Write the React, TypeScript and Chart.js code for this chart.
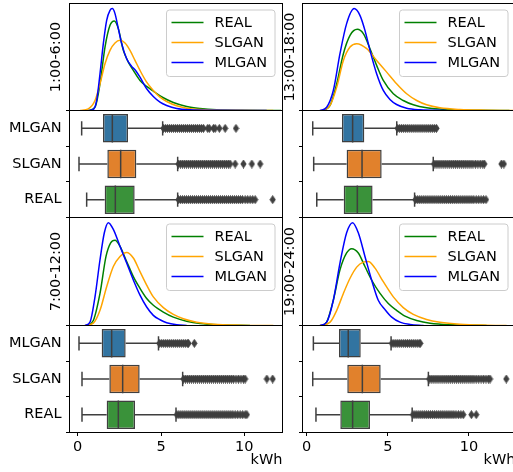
import React, { useEffect, useRef } from "react";
import { Chart, registerables } from "chart.js";
Chart.register(...registerables);

const CW = 530;
const CH = 472;
const FONT_FAMILY = "'DejaVu Sans', 'Liberation Sans', sans-serif";
const FONT_SIZE = 14.5;
const EDGE = "#3f3f3f";

// ---------- categories / labels ----------
const SERIES = ["REAL", "SLGAN", "MLGAN"];
const SERIES_COLORS = ["green", "orange", "blue"];
const BOX_CATEGORIES = ["MLGAN", "SLGAN", "REAL"]; // top to bottom
const BOX_FILLS = ["#3274a1", "#e1812c", "#3a923a"];
const PERIODS = ["1:00-6:00", "13:00-18:00", "7:00-12:00", "19:00-24:00"];
const X_TICKS = [0, 5, 10];
const X_LABEL = "kWh";

// ---------- KDE curves [kWh, density (relative)] ----------
const KDE_1_6_REAL = [[0.64,0],[1.04,3.3],[1.34,26.7],[1.64,63.3],[1.94,85],[2.2,89.3],[2.44,81.7],[2.74,60],[3.04,48.3],[3.34,40],[3.74,30],[4.14,24],[4.54,19.3],[5.14,12.7],[5.74,8],[6.54,4],[7.34,2],[8.34,0.7],[9.74,0.2],[12.2,0]];
const KDE_1_6_SLGAN = [[0.14,0],[0.64,1.7],[1.04,10],[1.34,26.7],[1.64,46.7],[1.94,60],[2.24,67.3],[2.54,70],[2.84,67.3],[3.14,60],[3.44,50],[3.74,40],[4.14,28.3],[4.54,20],[4.94,13.3],[5.34,9],[5.94,4.7],[6.54,2.3],[7.34,1],[9.34,0.2],[11.74,0]];
const KDE_1_6_MLGAN = [[0.64,0],[0.94,1],[1.14,10],[1.34,36.7],[1.54,66.7],[1.74,90],[1.94,100],[2.08,101.7],[2.24,96.7],[2.44,81.7],[2.64,66.7],[2.94,51.7],[3.24,44],[3.44,40.7],[3.74,33.3],[4.14,21.7],[4.54,14],[4.94,8.3],[5.34,5],[5.94,2],[6.74,0.7],[8.34,0.2],[11.34,0]];

const KDE_13_18_REAL = [[1.03,0],[1.44,5],[1.85,26.7],[2.26,56.7],[2.67,75],[3.12,81],[3.49,76.7],[3.9,61.7],[4.31,45],[4.72,30],[5.34,16.7],[5.95,10],[6.57,5.7],[7.39,2.7],[8.62,1],[10.68,0.2],[12.5,0]];
const KDE_13_18_SLGAN = [[0.92,0],[1.44,5],[1.85,23.3],[2.26,50],[2.67,63.3],[3.08,66.7],[3.7,61.7],[4.31,50],[4.93,38.3],[5.54,26.7],[6.16,16.7],[6.78,10],[7.39,5.7],[8.21,2.7],[9.44,1],[11.09,0.3],[12.73,0]];
const KDE_13_18_MLGAN = [[0.82,0],[1.23,3.3],[1.64,20],[2.05,56.7],[2.46,86.7],[2.92,101.7],[3.28,95],[3.59,80],[3.9,60],[4.31,36.7],[4.72,20],[5.13,11],[5.54,6],[6.16,2.3],[6.98,0.7],[8.62,0]];

const KDE_7_12_REAL = [[0.54,0],[0.94,5],[1.34,31.7],[1.7,68.3],[1.98,81.7],[2.24,84.3],[2.54,78.3],[2.94,63.3],[3.34,48.3],[3.74,36.7],[4.14,26.7],[4.54,20],[5.14,13.3],[5.74,8.3],[6.54,4.3],[7.34,2],[8.54,0.7],[10.34,0]];
const KDE_7_12_SLGAN = [[0.44,0],[0.94,2.3],[1.34,15],[1.74,38.3],[2.14,58.3],[2.54,68.3],[2.94,72.3],[3.34,66.7],[3.74,53.3],[4.14,40],[4.54,28.3],[5.14,17.7],[5.74,11],[6.34,6.7],[7.14,3.3],[8.14,1.3],[9.74,0.3],[11.74,0]];
const KDE_7_12_MLGAN = [[0.44,0],[0.74,3.3],[1.04,28.3],[1.34,65],[1.6,91.7],[1.84,101.7],[2.14,95],[2.54,78.3],[2.94,61.7],[3.34,45],[3.74,30],[4.14,18.3],[4.54,10],[4.94,5.7],[5.34,2.7],[5.94,0.7],[6.54,0]];

const KDE_19_24_REAL = [[0.92,0],[1.23,3.3],[1.64,25],[2.05,55],[2.46,71.7],[2.77,76],[3.18,71.7],[3.59,58.3],[4.0,45],[4.52,31.7],[5.03,21.7],[5.54,15],[6.06,9.3],[6.78,5],[7.6,2.3],[9.03,0.7],[11.09,0]];
const KDE_19_24_SLGAN = [[0.82,0],[1.44,3.3],[1.85,15],[2.26,31.7],[2.67,46.7],[3.08,57.7],[3.49,62.7],[3.8,63.3],[4.21,56.7],[4.72,43.3],[5.34,28.3],[5.95,17.7],[6.57,11],[7.39,6],[8.21,3.3],[9.44,1.3],[11.09,0.3],[12.32,0]];
const KDE_19_24_MLGAN = [[0.82,0],[1.23,3.3],[1.64,25],[2.05,61.7],[2.46,91.7],[2.83,101.7],[3.18,91.7],[3.59,68.3],[4.0,45],[4.41,25],[4.83,15.7],[5.24,8.3],[5.75,3.3],[6.37,1],[7.2,0]];

// ---------- box statistics (order: MLGAN, SLGAN, REAL) ----------
const BOX_1_6_LO = [0.24, 0.08, 0.54];
const BOX_1_6_Q1 = [1.52, 1.78, 1.62];
const BOX_1_6_MED = [2.08, 2.58, 2.26];
const BOX_1_6_Q3 = [3.02, 3.52, 3.42];
const BOX_1_6_HI = [5.1, 6.0, 6.0];

const BOX_13_18_LO = [0.37, 0.43, 0.62];
const BOX_13_18_Q1 = [2.17, 2.46, 2.28];
const BOX_13_18_MED = [2.83, 3.41, 3.12];
const BOX_13_18_Q3 = [3.55, 4.62, 4.06];
const BOX_13_18_HI = [5.55, 7.8, 6.65];

const BOX_7_12_LO = [0.08, 0.26, 0.26];
const BOX_7_12_Q1 = [1.44, 1.9, 1.74];
const BOX_7_12_MED = [2.04, 2.7, 2.44];
const BOX_7_12_Q3 = [2.88, 3.72, 3.44];
const BOX_7_12_HI = [4.85, 6.3, 5.9];

const BOX_19_24_LO = [0.41, 0.37, 0.57];
const BOX_19_24_Q1 = [1.99, 2.5, 2.07];
const BOX_19_24_MED = [2.56, 3.43, 2.83];
const BOX_19_24_Q3 = [3.33, 4.56, 3.9];
const BOX_19_24_HI = [5.2, 7.5, 6.5];

// ---------- outliers (kWh) ----------
const OUT_1_6_MLGAN = [5.15,5.27,5.39,5.51,5.63,5.75,5.87,5.99,6.11,6.23,6.35,6.47,6.59,6.71,6.83,6.95,7.07,7.19,7.31,7.43,7.55,7.8,7.9,8.15,8.25,8.5,8.85,9.5];
const OUT_1_6_SLGAN = [6.05,6.17,6.29,6.41,6.53,6.65,6.77,6.89,7.01,7.13,7.25,7.37,7.49,7.61,7.73,7.85,7.97,8.09,8.21,8.33,8.45,8.57,8.69,8.81,8.93,9.05,9.15,9.45,9.95,10.45,10.95];
const OUT_1_6_REAL = [6.05,6.17,6.29,6.41,6.53,6.65,6.77,6.89,7.01,7.13,7.25,7.37,7.49,7.61,7.73,7.85,7.97,8.09,8.21,8.33,8.45,8.57,8.69,8.81,8.93,9.05,9.17,9.29,9.41,9.53,9.65,9.77,9.89,10.05,10.2,10.35,10.5,10.65,11.7];

const OUT_13_18_MLGAN = [5.6,5.72,5.84,5.96,6.08,6.2,6.32,6.44,6.56,6.68,6.8,6.92,7.04,7.16,7.28,7.4,7.52,7.64,7.76,7.88,8.0];
const OUT_13_18_SLGAN = [7.85,7.97,8.09,8.21,8.33,8.45,8.57,8.69,8.81,8.93,9.05,9.17,9.29,9.41,9.53,9.65,9.77,9.89,10.01,10.13,10.25,10.4,10.55,10.7,10.85,10.95,12.0,12.15];
const OUT_13_18_REAL = [6.7,6.82,6.94,7.06,7.18,7.3,7.42,7.54,7.66,7.78,7.9,8.02,8.14,8.26,8.38,8.5,8.62,8.74,8.86,8.98,9.1,9.22,9.34,9.46,9.58,9.7,9.82,9.94,10.06,10.18,10.3,10.45,10.6,10.75,10.9,11.05];

const OUT_7_12_MLGAN = [4.9,5.02,5.14,5.26,5.38,5.5,5.62,5.74,5.86,5.98,6.1,6.22,6.34,6.46,6.58,6.65,7.0];
const OUT_7_12_SLGAN = [6.35,6.47,6.59,6.71,6.83,6.95,7.07,7.19,7.31,7.43,7.55,7.67,7.79,7.91,8.03,8.15,8.27,8.39,8.51,8.63,8.75,8.87,8.99,9.11,9.23,9.35,9.5,9.65,9.8,9.95,10.05,11.35,11.7];
const OUT_7_12_REAL = [5.95,6.07,6.19,6.31,6.43,6.55,6.67,6.79,6.91,7.03,7.15,7.27,7.39,7.51,7.63,7.75,7.87,7.99,8.11,8.23,8.35,8.47,8.59,8.71,8.83,8.95,9.07,9.19,9.31,9.45,9.6,9.75,9.9,10.05,10.15];

const OUT_19_24_MLGAN = [5.25,5.37,5.49,5.61,5.73,5.85,5.97,6.09,6.21,6.33,6.45,6.57,6.69,6.81,6.93,7.0];
const OUT_19_24_SLGAN = [7.55,7.67,7.79,7.91,8.03,8.15,8.27,8.39,8.51,8.63,8.75,8.87,8.99,9.11,9.23,9.35,9.47,9.59,9.71,9.83,9.95,10.07,10.19,10.31,10.45,10.6,10.75,10.9,11.05,11.2,11.3,12.3];
const OUT_19_24_REAL = [6.55,6.67,6.79,6.91,7.03,7.15,7.27,7.39,7.51,7.63,7.75,7.87,7.99,8.11,8.23,8.35,8.47,8.59,8.71,8.83,8.95,9.07,9.2,9.35,9.5,9.65,10.15,10.45];

// ---------- layout ----------
const COLS = [
  { L: 69.5, R: 282.5, xmin: -0.49, xmax: 12.29, titleX: 56, labels: true },
  { L: 302.5, R: 515.5, xmin: -0.26, xmax: 12.87, titleX: 290.5, labels: false },
];
const ROWS = [
  { kT: 3.5, kB: 110.5, bT: 110.5, bB: 217.5, bottom: false },
  { kT: 217.5, kB: 325.5, bT: 325.5, bB: 432.5, bottom: true },
];

const PANELS = [
  { period: PERIODS[0], col: 0, row: 0, kde: [KDE_1_6_REAL, KDE_1_6_SLGAN, KDE_1_6_MLGAN],
    box: [BOX_1_6_LO, BOX_1_6_Q1, BOX_1_6_MED, BOX_1_6_Q3, BOX_1_6_HI], out: [OUT_1_6_MLGAN, OUT_1_6_SLGAN, OUT_1_6_REAL] },
  { period: PERIODS[1], col: 1, row: 0, kde: [KDE_13_18_REAL, KDE_13_18_SLGAN, KDE_13_18_MLGAN],
    box: [BOX_13_18_LO, BOX_13_18_Q1, BOX_13_18_MED, BOX_13_18_Q3, BOX_13_18_HI], out: [OUT_13_18_MLGAN, OUT_13_18_SLGAN, OUT_13_18_REAL] },
  { period: PERIODS[2], col: 0, row: 1, kde: [KDE_7_12_REAL, KDE_7_12_SLGAN, KDE_7_12_MLGAN],
    box: [BOX_7_12_LO, BOX_7_12_Q1, BOX_7_12_MED, BOX_7_12_Q3, BOX_7_12_HI], out: [OUT_7_12_MLGAN, OUT_7_12_SLGAN, OUT_7_12_REAL] },
  { period: PERIODS[3], col: 1, row: 1, kde: [KDE_19_24_REAL, KDE_19_24_SLGAN, KDE_19_24_MLGAN],
    box: [BOX_19_24_LO, BOX_19_24_Q1, BOX_19_24_MED, BOX_19_24_Q3, BOX_19_24_HI], out: [OUT_19_24_MLGAN, OUT_19_24_SLGAN, OUT_19_24_REAL] },
];

const FONT = { family: FONT_FAMILY, size: FONT_SIZE };
const HALF_LH = (FONT_SIZE * 1.2) / 2;

const framePlugin = {
  id: "frame",
  afterDraw(chart: any) {
    const { ctx, chartArea: a } = chart;
    ctx.save();
    ctx.strokeStyle = "#000";
    ctx.lineWidth = 1;
    ctx.strokeRect(a.left, a.top, a.right - a.left, a.bottom - a.top);
    ctx.restore();
  },
};

function makeLegendPlugin() {
  return {
    id: "innerLegend",
    afterDraw(chart: any) {
      const { ctx, chartArea: a } = chart;
      const w = 108.5, h = 66.5;
      const bx = a.right - 7.5 - w;
      const by = a.top + 6.5;
      ctx.save();
      ctx.beginPath();
      (ctx as any).roundRect(bx, by, w, h, 3);
      ctx.fillStyle = "rgba(255,255,255,0.8)";
      ctx.fill();
      ctx.strokeStyle = "#cccccc";
      ctx.lineWidth = 1;
      ctx.stroke();
      ctx.font = `${FONT_SIZE}px ${FONT_FAMILY}`;
      ctx.textBaseline = "middle";
      ctx.textAlign = "left";
      SERIES.forEach((s, i) => {
        const y = by + 12.5 + 20 * i;
        ctx.beginPath();
        ctx.moveTo(bx + 5, y);
        ctx.lineTo(bx + 37, y);
        ctx.strokeStyle = SERIES_COLORS[i];
        ctx.lineWidth = 1.5;
        ctx.stroke();
        ctx.fillStyle = "#000";
        ctx.fillText(s, bx + 48, y + 0.5);
      });
      ctx.restore();
    },
  };
}

function makeDiamond() {
  const c = document.createElement("canvas");
  c.width = 7;
  c.height = 9;
  const g = c.getContext("2d")!;
  g.fillStyle = EDGE;
  g.strokeStyle = EDGE;
  g.lineWidth = 0.8;
  g.beginPath();
  g.moveTo(3.5, 0.5);
  g.lineTo(6.2, 4.5);
  g.lineTo(3.5, 8.5);
  g.lineTo(0.8, 4.5);
  g.closePath();
  g.fill();
  g.stroke();
  return c;
}

function kdeConfig(p: any): any {
  const col = COLS[p.col];
  const row = ROWS[p.row];
  const padLeft = col.titleX - HALF_LH;
  const yW = col.L - padLeft;
  const peak = Math.max(...p.kde.flatMap((c: number[][]) => c.map((d) => d[1])));
  return {
    type: "scatter",
    data: {
      datasets: SERIES.map((s, i) => ({
        type: "line",
        label: s,
        data: p.kde[i].map((d: number[]) => ({ x: d[0], y: d[1] })),
        borderColor: SERIES_COLORS[i],
        backgroundColor: SERIES_COLORS[i],
        borderWidth: 1.5,
        pointRadius: 0,
        fill: false,
        showLine: true,
        cubicInterpolationMode: "monotone",
        order: 2 - i,
      })),
    },
    options: {
      responsive: false,
      animation: false,
      devicePixelRatio: 1,
      events: [],
      layout: { padding: { left: padLeft, right: CW - col.R, top: row.kT, bottom: CH - row.kB } },
      plugins: { legend: { display: false }, tooltip: { enabled: false } },
      scales: {
        x: { type: "linear", display: false, min: col.xmin, max: col.xmax },
        y: {
          type: "linear",
          min: 0,
          max: peak * 1.05,
          ticks: { display: false },
          grid: { display: false, drawTicks: false },
          border: { display: false },
          title: { display: true, text: p.period, font: FONT, color: "#000", padding: 0 },
          afterFit: (s: any) => { s.width = yW; },
        },
      },
    },
    plugins: [framePlugin, makeLegendPlugin()],
  };
}

function boxConfig(p: any, diamond: HTMLCanvasElement): any {
  const col = COLS[p.col];
  const row = ROWS[p.row];
  const [lo, q1, med, q3, hi] = p.box;
  const yW = 60;
  const xH = row.bottom ? CH - row.bB : 0;
  const SEP = { x: null, y: null };
  const CAP = 0.2;
  const HALF = 0.4;
  const whiskers: any[] = [];
  const medians: any[] = [];
  BOX_CATEGORIES.forEach((_, i) => {
    whiskers.push(
      { x: lo[i], y: i }, { x: q1[i], y: i }, SEP,
      { x: q3[i], y: i }, { x: hi[i], y: i }, SEP,
      { x: lo[i], y: i - CAP }, { x: lo[i], y: i + CAP }, SEP,
      { x: hi[i], y: i - CAP }, { x: hi[i], y: i + CAP }, SEP
    );
    medians.push({ x: med[i], y: i - HALF }, { x: med[i], y: i + HALF }, SEP);
  });
  const outliers = p.out.flatMap((arr: number[], i: number) => arr.map((v) => ({ x: v, y: i })));
  return {
    type: "scatter",
    data: {
      datasets: [
        {
          type: "line",
          data: medians,
          borderColor: EDGE,
          borderWidth: 1.5,
          pointRadius: 0,
          showLine: true,
          spanGaps: false,
          order: 0,
        },
        {
          type: "bar",
          indexAxis: "y",
          data: BOX_CATEGORIES.map((_, i) => ({ y: i, x: [q1[i], q3[i]] })),
          backgroundColor: BOX_FILLS,
          borderColor: EDGE,
          borderWidth: 1.5,
          borderSkipped: false,
          barPercentage: 0.8,
          categoryPercentage: 1,
          order: 1,
        },
        {
          type: "line",
          data: whiskers,
          borderColor: EDGE,
          borderWidth: 1.5,
          pointRadius: 0,
          showLine: true,
          spanGaps: false,
          order: 2,
        },
        {
          type: "scatter",
          data: outliers,
          pointStyle: diamond,
          pointRadius: 3,
          pointHoverRadius: 3,
          showLine: false,
          order: 3,
        },
      ],
    },
    options: {
      responsive: false,
      animation: false,
      devicePixelRatio: 1,
      events: [],
      layout: { padding: { left: col.L - yW, right: CW - col.R, top: row.bT, bottom: CH - row.bB - xH } },
      plugins: { legend: { display: false }, tooltip: { enabled: false } },
      scales: {
        x: {
          type: "linear",
          display: row.bottom,
          min: col.xmin,
          max: col.xmax,
          offset: false,
          afterBuildTicks: (s: any) => { s.ticks = X_TICKS.map((v) => ({ value: v })); },
          ticks: { display: true, font: FONT, color: "#000", padding: 3, maxRotation: 0, autoSkip: false },
          grid: { display: true, drawOnChartArea: false, drawTicks: true, tickLength: 3.5, color: "#000", lineWidth: 1 },
          border: { display: false },
          title: { display: true, text: X_LABEL, align: "end", font: FONT, color: "#000", padding: { top: 0, bottom: 3.5 } },
          afterFit: (s: any) => { s.height = xH; },
        },
        y: {
          type: "linear",
          min: -0.5,
          max: 2.5,
          reverse: true,
          offset: false,
          afterBuildTicks: (s: any) => { s.ticks = BOX_CATEGORIES.map((_, i) => ({ value: i })); },
          ticks: {
            display: col.labels,
            font: FONT,
            color: "#000",
            padding: 4.5,
            autoSkip: false,
            callback: (v: any) => BOX_CATEGORIES[Math.round(Number(v))],
          },
          grid: { display: true, drawOnChartArea: false, drawTicks: true, tickLength: 3.5, color: "#000", lineWidth: 1 },
          border: { display: false },
          afterFit: (s: any) => { s.width = yW; },
        },
      },
    },
    plugins: [framePlugin],
  };
}

function ChartCanvas({ build }: { build: () => any }) {
  const ref = useRef<HTMLCanvasElement | null>(null);
  useEffect(() => {
    if (!ref.current) return;
    const chart = new Chart(ref.current, build());
    return () => chart.destroy();
  }, []);
  return (
    <canvas
      ref={ref}
      width={CW}
      height={CH}
      style={{ position: "absolute", left: 0, top: 0, width: CW, height: CH }}
    />
  );
}

export default function App() {
  const diamondRef = useRef<HTMLCanvasElement | null>(null);
  if (!diamondRef.current && typeof document !== "undefined") diamondRef.current = makeDiamond();
  return (
    <div
      style={{
        position: "fixed",
        left: 0,
        top: 0,
        width: 513,
        height: 472,
        overflow: "hidden",
        background: "#fff",
      }}
    >
      {PANELS.map((p, k) => (
        <React.Fragment key={k}>
          <ChartCanvas build={() => kdeConfig(p)} />
          <ChartCanvas build={() => boxConfig(p, diamondRef.current!)} />
        </React.Fragment>
      ))}
    </div>
  );
}
